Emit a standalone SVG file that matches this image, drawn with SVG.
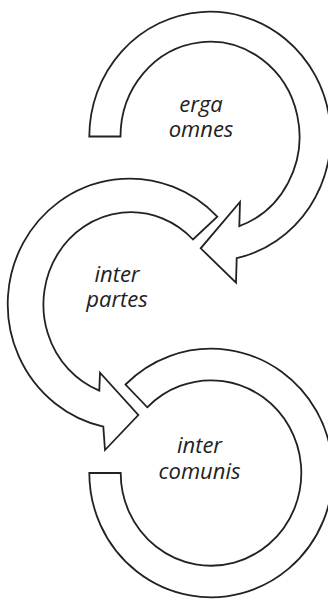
<svg xmlns="http://www.w3.org/2000/svg" width="328" height="600" viewBox="0 0 328 600">
<style>
.arrow{fill:#fff;stroke:#222;stroke-width:1.8;stroke-linejoin:miter}
.lbl{font-family:"Open Sans","Noto Sans","DejaVu Sans",sans-serif;font-style:italic;font-size:22px;fill:#222;text-anchor:middle}
</style>
<rect width="328" height="600" fill="#fff"/>
<g id="connectors">
<path id="arrow-erga" class="arrow" d="M89.3,136.5 A120.7,124.8 0 1 1 236.7,258.2 L236,282.7 L200.7,248.3 L240,202 L239.3,226.1 A89.5,94.8 0 1 0 120.5,136.5 Z"/>
<path id="arrow-partes" class="arrow" d="M217.3,216.7 A122,125.5 0 1 0 103.3,426.6 L105,450 L138.3,415 L100,372.7 L99.3,390.6 A87.5,92.3 0 1 1 193,239.5 Z"/>
<path id="arrow-comunis" class="arrow" d="M89.3,473 A121.7,124.3 0 1 0 125.5,384.5 L147.3,407.3 A90.3,92.7 0 1 1 120.7,473 Z"/>
</g>
<g id="node-erga-omnes">
<text class="lbl"><tspan x="201" y="111.7">erga</tspan><tspan x="201" y="137.3">omnes</tspan></text>
</g>
<g id="node-inter-partes">
<text class="lbl"><tspan x="117" y="281.7">inter</tspan><tspan x="117" y="307.3">partes</tspan></text>
</g>
<g id="node-inter-comunis">
<text class="lbl"><tspan x="199.5" y="452.7">inter</tspan><tspan x="199.5" y="479.3">comunis</tspan></text>
</g>
</svg>
